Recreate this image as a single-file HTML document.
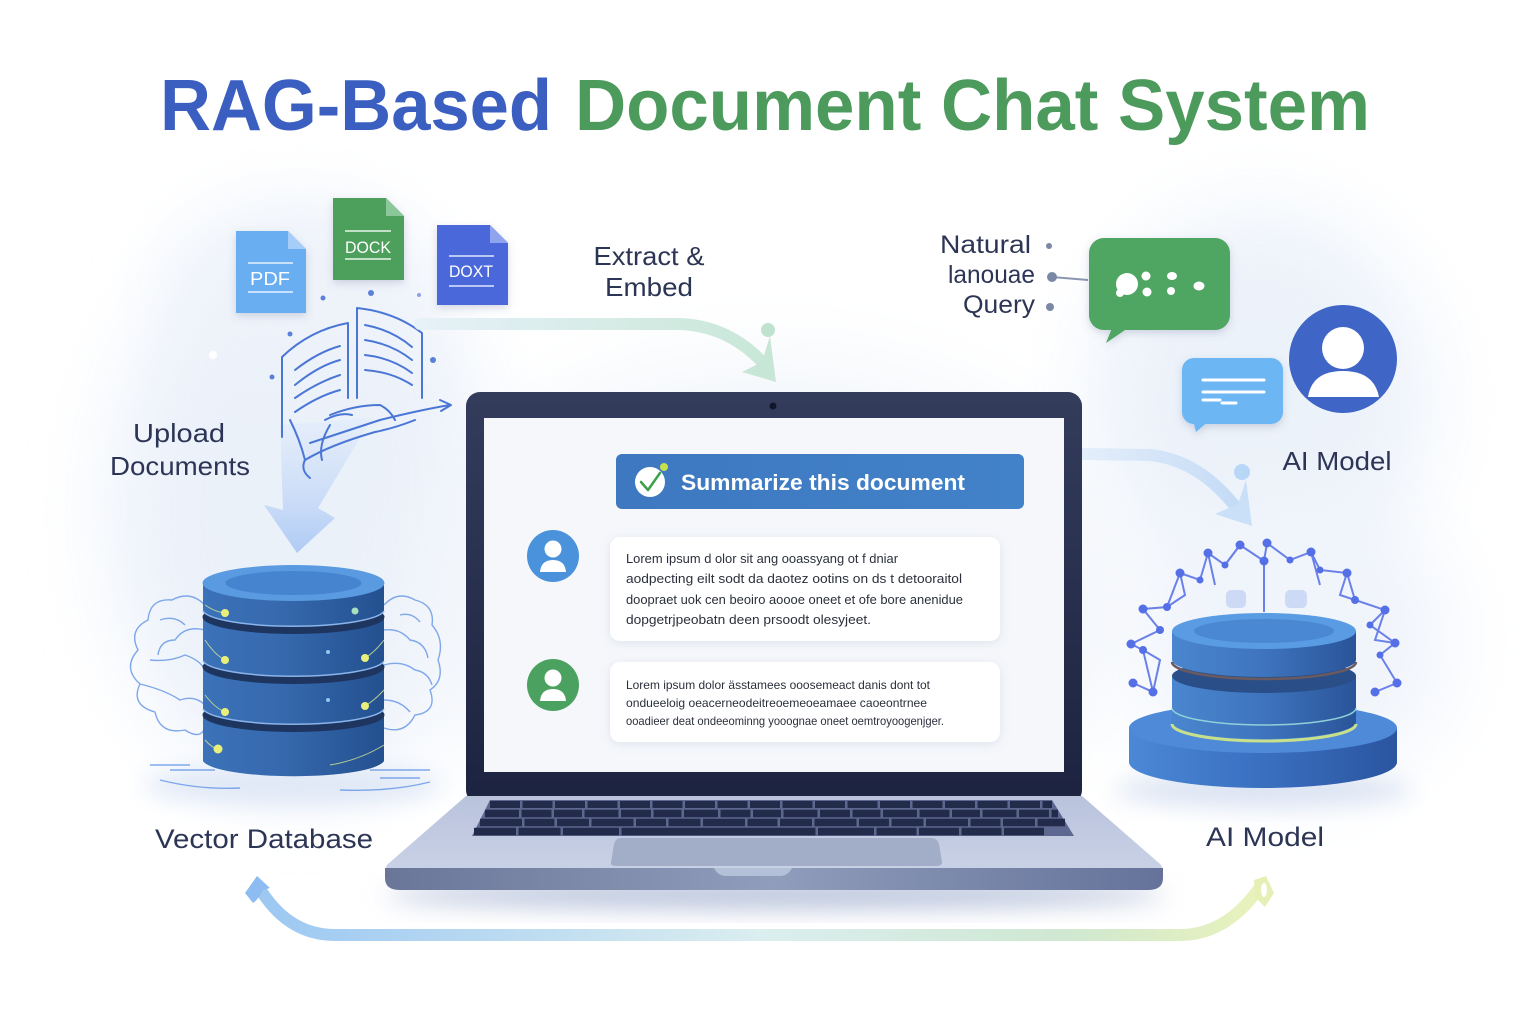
<!DOCTYPE html>
<html><head><meta charset="utf-8"><style>
html,body{margin:0;padding:0;background:#fff;}
svg{display:block;}
text{font-family:"Liberation Sans",sans-serif;}
</style></head><body>
<svg width="1536" height="1024" viewBox="0 0 1536 1024" xmlns="http://www.w3.org/2000/svg">
<defs>
<filter id="blur40" x="-50%" y="-50%" width="200%" height="200%"><feGaussianBlur stdDeviation="40"/></filter>
<filter id="blur12" x="-50%" y="-50%" width="200%" height="200%"><feGaussianBlur stdDeviation="12"/></filter>
<filter id="sh" x="-30%" y="-30%" width="160%" height="160%"><feDropShadow dx="0" dy="3" stdDeviation="4" flood-color="#5a6a90" flood-opacity="0.25"/></filter>
<filter id="shs" x="-30%" y="-30%" width="160%" height="160%"><feDropShadow dx="0" dy="2" stdDeviation="5" flood-color="#7a8aa8" flood-opacity="0.18"/></filter>
<linearGradient id="bezel" x1="0" y1="0" x2="0" y2="1"><stop offset="0" stop-color="#343c5c"/><stop offset="1" stop-color="#1c2340"/></linearGradient>
<linearGradient id="baseTop" x1="0" y1="0" x2="0" y2="1"><stop offset="0" stop-color="#b9c3dc"/><stop offset="1" stop-color="#c9d1e6"/></linearGradient>
<linearGradient id="baseFront" x1="0" y1="0" x2="1" y2="0"><stop offset="0" stop-color="#6a7698"/><stop offset="0.5" stop-color="#909dbb"/><stop offset="1" stop-color="#65729a"/></linearGradient>
<linearGradient id="banner" x1="0" y1="0" x2="1" y2="0"><stop offset="0" stop-color="#3d78c0"/><stop offset="1" stop-color="#4282c8"/></linearGradient>
<linearGradient id="cylSide" x1="0" y1="0" x2="1" y2="0"><stop offset="0" stop-color="#3b72b8"/><stop offset="0.45" stop-color="#3668ad"/><stop offset="1" stop-color="#23508f"/></linearGradient>
<linearGradient id="cylSideR" x1="0" y1="0" x2="1" y2="0"><stop offset="0" stop-color="#4a86cf"/><stop offset="0.5" stop-color="#3e74bd"/><stop offset="1" stop-color="#2a5499"/></linearGradient>
<linearGradient id="baseDisk" x1="0" y1="0" x2="1" y2="0"><stop offset="0" stop-color="#4b88d6"/><stop offset="0.5" stop-color="#3a6fc0"/><stop offset="1" stop-color="#2b559f"/></linearGradient>
<linearGradient id="bottomArrow" x1="0" y1="0" x2="1" y2="0"><stop offset="0" stop-color="#9cc8f2"/><stop offset="0.5" stop-color="#dbeef0"/><stop offset="0.8" stop-color="#cfe8d2"/><stop offset="1" stop-color="#e8f2bc"/></linearGradient>
<linearGradient id="extractArrow" x1="0" y1="0" x2="1" y2="0"><stop offset="0" stop-color="#e6f1f8"/><stop offset="1" stop-color="#c9e7d8"/></linearGradient>
<linearGradient id="rightArrow" x1="0" y1="0" x2="1" y2="0"><stop offset="0" stop-color="#e4eefa"/><stop offset="1" stop-color="#c4dbf6"/></linearGradient>
<linearGradient id="downArrow" x1="0" y1="0" x2="0" y2="1"><stop offset="0" stop-color="#dde9fb" stop-opacity="0.5"/><stop offset="1" stop-color="#a9c6f4"/></linearGradient>
</defs>

<!-- background blobs -->
<rect width="1536" height="1024" fill="#ffffff"/>
<ellipse cx="300" cy="510" rx="190" ry="280" fill="#e8eff9" filter="url(#blur40)" opacity="0.85"/>
<ellipse cx="300" cy="290" rx="130" ry="80" fill="#eef3fa" filter="url(#blur40)"/>
<ellipse cx="1260" cy="400" rx="170" ry="190" fill="#e9f0f9" filter="url(#blur40)" opacity="0.85"/>
<ellipse cx="1290" cy="640" rx="160" ry="150" fill="#f0f4fb" filter="url(#blur40)"/>
<ellipse cx="770" cy="600" rx="360" ry="240" fill="#f3f6fb" filter="url(#blur40)"/>

<!-- Title -->
<text x="160" y="130" font-size="72" font-weight="700" fill="#3b5fc1" textLength="392" lengthAdjust="spacingAndGlyphs">RAG-Based</text>
<text x="575" y="130" font-size="72" font-weight="700" fill="#4c9a5c" textLength="795" lengthAdjust="spacingAndGlyphs">Document Chat System</text>

<!-- Files -->
<g filter="url(#sh)">
<path d="M236 231 H288 L306 249 V313 H236 Z" fill="#6aaef2"/>
<path d="M288 231 V249 H306 Z" fill="#a5cdf7"/>
<path d="M333 198 H386 L404 216 V280 H333 Z" fill="#4d9f5c"/>
<path d="M386 198 V216 H404 Z" fill="#8cc79a"/>
<path d="M437 225 H490 L508 243 V305 H437 Z" fill="#4b68da"/>
<path d="M490 225 V243 H508 Z" fill="#8fa4ee"/>
</g>
<line x1="248" y1="263" x2="293" y2="263" stroke="#e6f1ff" stroke-width="1.5"/>
<line x1="248" y1="292" x2="293" y2="292" stroke="#e6f1ff" stroke-width="1.5"/>
<text x="270" y="285" font-size="18" fill="#ffffff" text-anchor="middle" textLength="40" lengthAdjust="spacingAndGlyphs">PDF</text>
<line x1="345" y1="231" x2="391" y2="231" stroke="#e8f5ea" stroke-width="1.5"/>
<line x1="345" y1="259" x2="391" y2="259" stroke="#e8f5ea" stroke-width="1.5"/>
<text x="368" y="253" font-size="17" fill="#ffffff" text-anchor="middle" textLength="46" lengthAdjust="spacingAndGlyphs">DOCK</text>
<line x1="449" y1="256" x2="494" y2="256" stroke="#dfe5fb" stroke-width="1.5"/>
<line x1="449" y1="286" x2="494" y2="286" stroke="#dfe5fb" stroke-width="1.5"/>
<text x="471" y="277" font-size="17" fill="#ffffff" text-anchor="middle" textLength="44" lengthAdjust="spacingAndGlyphs">DOXT</text>
<circle cx="323" cy="298" r="2.5" fill="#5a80d8"/>
<circle cx="371" cy="293" r="3" fill="#5a80d8"/>
<circle cx="419" cy="295" r="2" fill="#8aa4e0"/>

<!-- big down arrow -->
<path d="M280 425 L372 418 L318 508 L335 518 L297 553 L264 505 L283 510 Z" fill="url(#downArrow)" opacity="0.9"/>

<!-- book sketch -->
<g fill="none" stroke="#4a76d6" stroke-width="2" stroke-linecap="round" stroke-linejoin="round">
<path d="M282 437 V357 Q310 330 348 323 V398"/>
<path d="M357 398 V308 Q395 312 422 333 V398"/>
<path d="M295 370 Q318 352 340 346"/>
<path d="M295 385 Q318 366 340 360"/>
<path d="M295 398 Q318 382 340 375"/>
<path d="M295 412 Q318 396 340 390"/>
<path d="M365 325 Q392 330 412 347"/>
<path d="M365 340 Q392 344 412 360"/>
<path d="M365 355 Q392 358 412 373"/>
<path d="M365 370 Q392 372 412 385"/>
<path d="M330 415 Q355 405 380 405 Q390 410 395 420"/>
<path d="M325 420 Q340 412 352 415"/>
<path d="M310 443 Q350 430 380 420 Q420 410 450 405"/>
<path d="M440 400 L451 405 L441 411"/>
<path d="M305 460 Q330 445 375 432 Q395 428 415 420"/>
<path d="M290 420 Q300 440 305 460 Q300 470 310 478"/>
<path d="M330 425 Q318 445 322 460"/>
</g>
<circle cx="290" cy="334" r="2.5" fill="#5a80d8"/>
<circle cx="272" cy="377" r="2.5" fill="#5a80d8"/>
<circle cx="433" cy="360" r="3" fill="#5a80d8"/>
<circle cx="213" cy="355" r="4" fill="#ffffff"/>

<!-- Upload Documents -->
<text x="179" y="442" font-size="26" fill="#2c3555" text-anchor="middle" textLength="92" lengthAdjust="spacingAndGlyphs">Upload</text>
<text x="180" y="475" font-size="26" fill="#2c3555" text-anchor="middle" textLength="140" lengthAdjust="spacingAndGlyphs">Documents</text>

<!-- Extract & Embed -->
<text x="649" y="265" font-size="26" fill="#2c3555" text-anchor="middle" textLength="111" lengthAdjust="spacingAndGlyphs">Extract &amp;</text>
<text x="649" y="296" font-size="26" fill="#2c3555" text-anchor="middle" textLength="88" lengthAdjust="spacingAndGlyphs">Embed</text>
<path d="M420 324 L680 324 Q730 326 765 365" fill="none" stroke="url(#extractArrow)" stroke-width="12" stroke-linecap="round"/>
<path d="M742 372 L776 382 L770 336 L762 362 Z" fill="#c8e6d6"/>
<circle cx="768" cy="330" r="7" fill="#c0e2d0"/>

<!-- Natural language Query -->
<text x="1031" y="253" font-size="25" fill="#2c3555" text-anchor="end" textLength="91" lengthAdjust="spacingAndGlyphs">Natural</text>
<text x="1035" y="283" font-size="25" fill="#2c3555" text-anchor="end" textLength="87" lengthAdjust="spacingAndGlyphs">lanouae</text>
<text x="1035" y="313" font-size="25" fill="#2c3555" text-anchor="end" textLength="72" lengthAdjust="spacingAndGlyphs">Query</text>
<circle cx="1049" cy="246" r="3" fill="#7a88a6"/>
<line x1="1052" y1="277" x2="1088" y2="280" stroke="#8a96b0" stroke-width="2"/>
<circle cx="1052" cy="277" r="5" fill="#7a88a6"/>
<circle cx="1050" cy="307" r="4" fill="#7a88a6"/>

<!-- green bubble -->
<g filter="url(#sh)">
<rect x="1089" y="238" width="141" height="92" rx="15" fill="#4fa562"/>
<path d="M1112 328 L1106 343 L1128 328 Z" fill="#4fa562"/>
</g>
<circle cx="1127" cy="284" r="11" fill="#fff"/>
<circle cx="1120" cy="293" r="4" fill="#fff"/>
<circle cx="1146" cy="276" r="4.5" fill="#fff"/>
<circle cx="1147" cy="292" r="4.5" fill="#fff"/>
<ellipse cx="1172" cy="276" rx="5" ry="4" fill="#fff"/>
<circle cx="1171" cy="291" r="4" fill="#fff"/>
<ellipse cx="1199" cy="286" rx="5.5" ry="4.5" fill="#fff"/>

<!-- blue bubble -->
<g filter="url(#sh)">
<rect x="1182" y="358" width="101" height="66" rx="12" fill="#6cb6f4"/>
<path d="M1193 420 L1196 432 L1210 420 Z" fill="#6cb6f4"/>
</g>
<line x1="1203" y1="380" x2="1264" y2="380" stroke="#fff" stroke-width="3" stroke-linecap="round"/>
<line x1="1203" y1="392" x2="1264" y2="392" stroke="#fff" stroke-width="3" stroke-linecap="round"/>
<line x1="1203" y1="400" x2="1220" y2="400" stroke="#fff" stroke-width="3" stroke-linecap="round"/>
<line x1="1222" y1="403" x2="1236" y2="403" stroke="#fff" stroke-width="3" stroke-linecap="round"/>

<!-- AI avatar -->
<circle cx="1343" cy="359" r="54" fill="#3f66c6"/>
<circle cx="1343" cy="348" r="21" fill="#fff"/>
<path d="M1308 397 Q1312 371 1343 371 Q1374 371 1379 397 Z" fill="#fff"/>
<text x="1337" y="470" font-size="26" fill="#2c3555" text-anchor="middle" textLength="109" lengthAdjust="spacingAndGlyphs">AI Model</text>

<!-- right arrow -->
<path d="M1082 454 L1150 455 Q1200 460 1238 510" fill="none" stroke="url(#rightArrow)" stroke-width="12" stroke-linecap="round"/>
<path d="M1215 514 L1252 526 L1246 480 L1238 504 Z" fill="#cadff8"/>
<circle cx="1242" cy="472" r="8" fill="#b8d6f6"/>

<!-- Laptop -->
<ellipse cx="775" cy="895" rx="390" ry="14" fill="#b9c4dc" filter="url(#blur12)"/>
<rect x="466" y="392" width="616" height="412" rx="14" fill="url(#bezel)"/>
<circle cx="773" cy="406" r="3.5" fill="#11162a"/>
<rect x="484" y="418" width="580" height="354" fill="#f5f7fb"/>
<path d="M466 796 H1082 L1160 864 Q1164 868 1160 870 H388 Q384 868 388 864 Z" fill="url(#baseTop)"/>
<path d="M385 868 H1163 V878 Q1163 890 1148 890 H400 Q385 890 385 878 Z" fill="url(#baseFront)"/>
<path d="M714 868 H792 Q788 876 780 876 H726 Q718 876 714 868 Z" fill="#b4bfd8"/>
<path d="M490 800 H1052 L1074 836 H472 Z" fill="#5c6890"/>
<g stroke="#222b4a" fill="none">
<line x1="490" y1="804.5" x2="1052" y2="804.5" stroke-width="7" stroke-dasharray="30 2.5"/>
<line x1="485" y1="813.5" x2="1058" y2="813.5" stroke-width="7.5" stroke-dasharray="34 2.5 30 2.5 28 2.5"/>
<line x1="480" y1="822.5" x2="1065" y2="822.5" stroke-width="7.5" stroke-dasharray="42 2.5 30 2.5 32 2.5"/>
<line x1="474" y1="831.5" x2="1072" y2="831.5" stroke-width="7.5" stroke-dasharray="42 2.5 42 2.5 56 2.5 194 2.5 56 2.5 40 2.5 40 2.5 40 2.5 40"/>
</g>
<path d="M620 838 H932 Q937 838 939 844 L942 862 Q942 866 936 866 H616 Q610 866 611 862 L614 844 Q616 838 620 838 Z" fill="#a2aec8"/>

<!-- Banner -->
<rect x="616" y="454" width="408" height="55" rx="6" fill="url(#banner)"/>
<circle cx="650" cy="482" r="15" fill="#fff"/>
<path d="M641 482 L648 490 L660 473" fill="none" stroke="#3ea04a" stroke-width="2.5" stroke-linecap="round" stroke-linejoin="round"/>
<circle cx="664" cy="467" r="4" fill="#c8e04a"/>
<text x="681" y="490" font-size="22" font-weight="700" fill="#ffffff" textLength="284" lengthAdjust="spacingAndGlyphs">Summarize this document</text>

<!-- chat 1 -->
<circle cx="553" cy="556" r="26" fill="#4a92dc"/>
<circle cx="553" cy="549" r="8.5" fill="#fff"/>
<path d="M540 572 Q541 560 553 560 Q565 560 566 572 Z" fill="#fff"/>
<rect x="610" y="537" width="390" height="104" rx="10" fill="#ffffff" filter="url(#shs)"/>
<g font-size="13" fill="#2a2f3a">
<text x="626" y="563" textLength="272" lengthAdjust="spacingAndGlyphs">Lorem ipsum d olor sit ang ooassyang ot f dniar</text>
<text x="626" y="583" textLength="336" lengthAdjust="spacingAndGlyphs">aodpecting eilt sodt da daotez ootins on ds t detooraitol</text>
<text x="626" y="604" textLength="337" lengthAdjust="spacingAndGlyphs">doopraet uok cen beoiro aoooe oneet et ofe bore anenidue</text>
<text x="626" y="624" textLength="245" lengthAdjust="spacingAndGlyphs">dopgetrjpeobatn deen prsoodt olesyjeet.</text>
</g>

<!-- chat 2 -->
<circle cx="553" cy="685" r="26" fill="#4ba260"/>
<circle cx="553" cy="678" r="8.5" fill="#fff"/>
<path d="M540 701 Q541 689 553 689 Q565 689 566 701 Z" fill="#fff"/>
<rect x="610" y="662" width="390" height="80" rx="10" fill="#ffffff" filter="url(#shs)"/>
<g font-size="12" fill="#2a2f3a">
<text x="626" y="689" textLength="304" lengthAdjust="spacingAndGlyphs">Lorem ipsum dolor ässtamees ooosemeact danis dont tot</text>
<text x="626" y="707" textLength="301" lengthAdjust="spacingAndGlyphs">ondueeloig oeacerneodeitreoemeoeamaee caoeontrnee</text>
<text x="626" y="725" textLength="318" lengthAdjust="spacingAndGlyphs">ooadieer deat ondeeominng yooognae oneet oemtroyoogenjger.</text>
</g>

<!-- Left vector DB -->
<ellipse cx="293" cy="785" rx="150" ry="20" fill="#dfe8f6" filter="url(#blur12)"/>
<g fill="none" stroke="#6b9ae8" stroke-width="1.4" opacity="0.85">
<path d="M205 605 Q190 590 172 600 Q150 598 148 620 Q128 630 138 650 Q122 668 140 684 Q130 705 155 712 Q160 735 185 730 Q200 740 205 728"/>
<path d="M205 630 Q185 625 175 640 Q160 640 158 655 M150 660 Q170 662 185 655 Q200 660 205 670 M140 684 Q165 690 180 700 Q195 695 205 705 M160 620 Q175 615 185 625"/>
<path d="M384 605 Q398 590 415 600 Q435 605 432 625 Q445 640 438 660 Q445 680 430 690 Q438 712 415 715 Q405 735 384 728"/>
<path d="M384 630 Q400 628 410 640 Q425 642 428 658 M384 665 Q402 660 415 670 Q428 672 432 685 M384 700 Q400 700 410 712 M400 615 Q412 612 420 622"/>
<path d="M170 770 H215 M150 765 H190 M370 770 H430 M380 778 H420 M160 780 Q200 790 240 788 M340 790 Q390 792 430 782"/>
</g>
<!-- discs bottom to top -->
<g>
<path d="M203 715 V761 A91 17 0 0 0 384 761 V715 Z" fill="url(#cylSide)"/>
<ellipse cx="293.5" cy="715" rx="91" ry="17" fill="#1e3560"/>
<path d="M203 667 V709 A91 17 0 0 0 384 709 V667 Z" fill="url(#cylSide)"/>
<path d="M203 709 A91 17 0 0 0 384 709" fill="none" stroke="#8ab4ea" stroke-width="1.5"/>
<ellipse cx="293.5" cy="667" rx="91" ry="17" fill="#1e3560"/>
<path d="M203 617 V661 A91 17 0 0 0 384 661 V617 Z" fill="url(#cylSide)"/>
<path d="M203 661 A91 17 0 0 0 384 661" fill="none" stroke="#8ab4ea" stroke-width="1.5"/>
<ellipse cx="293.5" cy="617" rx="91" ry="17" fill="#1e3560"/>
<path d="M203 583 V611 A91 17 0 0 0 384 611 V583 Z" fill="url(#cylSide)"/>
<path d="M203 611 A91 17 0 0 0 384 611" fill="none" stroke="#8ab4ea" stroke-width="1.5"/>
<ellipse cx="293.5" cy="583" rx="91" ry="18" fill="#5a9ae0"/>
<ellipse cx="293.5" cy="583" rx="68" ry="12" fill="#4684d0"/>
</g>
<g stroke="#d8e890" stroke-width="1" fill="none" opacity="0.8">
<path d="M205 605 Q215 612 225 613 M205 640 Q215 655 225 660 M205 695 Q215 708 225 712 M205 740 Q212 748 218 749 M384 640 Q375 652 365 658 M384 690 Q375 700 365 706 M384 745 Q360 760 330 765"/>
</g>
<g fill="#e8f07a">
<circle cx="225" cy="613" r="4"/><circle cx="355" cy="611" r="3.5" fill="#a8e0c0"/>
<circle cx="225" cy="660" r="4"/><circle cx="365" cy="658" r="4"/>
<circle cx="225" cy="712" r="4"/><circle cx="365" cy="706" r="4"/>
<circle cx="218" cy="749" r="4.5"/>
<circle cx="328" cy="652" r="2" fill="#8ccaf0"/><circle cx="328" cy="700" r="2" fill="#8ccaf0"/>
</g>
<text x="264" y="848" font-size="27" fill="#2c3555" text-anchor="middle" textLength="218" lengthAdjust="spacingAndGlyphs">Vector Database</text>

<!-- Right AI DB -->
<ellipse cx="1263" cy="790" rx="150" ry="16" fill="#d9e2f2" filter="url(#blur12)"/>
<g fill="none" stroke="#6a80ea" stroke-width="2">
<polyline points="1133,683 1153,692 1143,650 1131,644 1160,630 1143,609 1167,607 1180,573 1200,580 1208,553 1225,565 1240,545 1264,561 1267,543 1290,560 1311,552 1320,570 1347,573 1355,600 1385,610 1370,625 1395,643 1380,655 1397,683 1375,692"/>
<path d="M1153 692 L1160 660 L1143 650 M1180 573 L1185 595 L1167 607 M1208 553 L1215 585 M1240 545 L1225 565 M1311 552 L1320 585 M1347 573 L1340 595 L1355 600 M1385 610 L1375 640 L1395 643 M1264 561 V612"/>
</g>
<g fill="#5570e6">
<circle cx="1133" cy="683" r="4.5"/><circle cx="1153" cy="692" r="4.5"/><circle cx="1143" cy="650" r="4"/><circle cx="1131" cy="644" r="4.5"/>
<circle cx="1160" cy="630" r="4"/><circle cx="1143" cy="609" r="4.5"/><circle cx="1167" cy="607" r="4"/><circle cx="1180" cy="573" r="4.5"/>
<circle cx="1200" cy="580" r="3.5"/><circle cx="1208" cy="553" r="4.5"/><circle cx="1225" cy="565" r="3.5"/><circle cx="1240" cy="545" r="4.5"/>
<circle cx="1264" cy="561" r="4.5"/><circle cx="1267" cy="543" r="4.5"/><circle cx="1290" cy="560" r="3.5"/><circle cx="1311" cy="552" r="4.5"/>
<circle cx="1320" cy="570" r="3.5"/><circle cx="1347" cy="573" r="4.5"/><circle cx="1355" cy="600" r="4"/><circle cx="1385" cy="610" r="4.5"/>
<circle cx="1370" cy="625" r="3.5"/><circle cx="1395" cy="643" r="4.5"/><circle cx="1380" cy="655" r="3.5"/><circle cx="1397" cy="683" r="4.5"/>
<circle cx="1375" cy="692" r="4.5"/>
</g>
<rect x="1226" y="590" width="20" height="18" rx="5" fill="#b6c8f4" opacity="0.6"/>
<rect x="1285" y="590" width="22" height="18" rx="5" fill="#b6c8f4" opacity="0.6"/>
<path d="M1129 728 V762 A134 26 0 0 0 1397 762 V728 Z" fill="url(#baseDisk)"/>
<ellipse cx="1263" cy="728" rx="134" ry="25" fill="#4e8ad8"/>
<path d="M1172 705 V722 A92 17 0 0 0 1356 722 V705 Z" fill="url(#cylSideR)"/>
<path d="M1172 724 A92 17 0 0 0 1356 724" fill="none" stroke="#c8e08a" stroke-width="3"/>
<path d="M1172 676 V705 A92 17 0 0 0 1356 705 V676 Z" fill="url(#cylSideR)"/>
<path d="M1172 708 A92 17 0 0 0 1356 708" fill="none" stroke="#8fd0d8" stroke-width="1.5"/>
<ellipse cx="1264" cy="676" rx="92" ry="17" fill="#2a4f88"/>
<path d="M1172 631 V660 A92 17 0 0 0 1356 660 V631 Z" fill="url(#cylSideR)"/>
<path d="M1172 662 A92 17 0 0 0 1356 662" fill="none" stroke="#6a5a60" stroke-width="2.5"/>
<ellipse cx="1264" cy="631" rx="92" ry="18" fill="#5a9ce4"/>
<ellipse cx="1264" cy="631" rx="70" ry="12" fill="#4a88d4"/>
<text x="1265" y="846" font-size="27" fill="#2c3555" text-anchor="middle" textLength="118" lengthAdjust="spacingAndGlyphs">AI Model</text>

<!-- bottom arrow -->
<path d="M262 892 Q290 935 335 935 L1180 935 Q1225 935 1258 890" fill="none" stroke="url(#bottomArrow)" stroke-width="12" stroke-linecap="round"/>
<path d="M245 893 L257 876 L270 888 L263 890 Q258 900 253 903 Z" fill="#8cbcf2"/>
<path d="M1254 880 L1266 876 L1274 893 L1265 907 L1255 897 Z" fill="#e6f0b6"/>
<ellipse cx="1264" cy="890" rx="3" ry="7" fill="#ffffff"/>
</svg>
</body></html>
